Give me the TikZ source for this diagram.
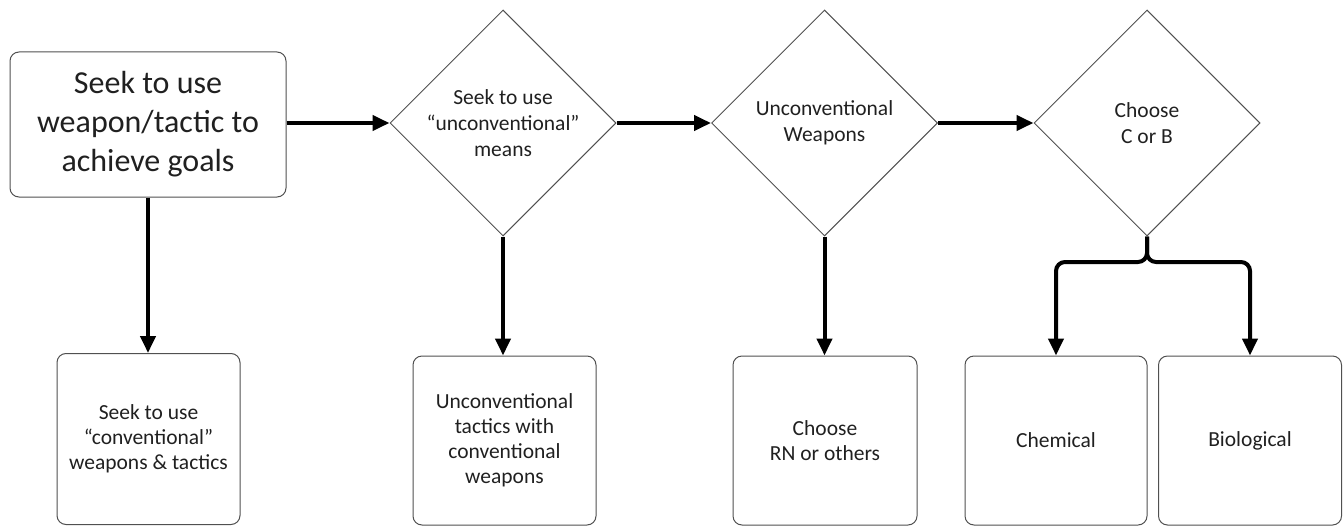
\documentclass[tikz,border=0pt]{standalone}
\usepackage{fontspec}
\setmainfont{Carlito}
\usetikzlibrary{shapes.geometric,arrows.meta}
\definecolor{edgegray}{HTML}{505050}
\definecolor{txt}{HTML}{202020}
\begin{document}
\begin{tikzpicture}[x=1pt,y=-1pt,
  box/.style={draw=edgegray,line width=1pt,rounded corners=9pt,align=center,text=txt,
     font=\fontsize{21.5}{25}\selectfont,inner sep=0pt},
  dia/.style={draw=edgegray,line width=1pt,shape=diamond,minimum width=226pt,minimum height=226pt,
     inner sep=0pt,align=center,text=txt,font=\fontsize{21.5}{26}\selectfont},
  arr/.style={line width=4pt,-{Triangle[length=17pt,width=15pt]}}]
\useasboundingbox (0,0) rectangle (1343,527);
\node[box,minimum width=276pt,minimum height=145pt,font=\fontsize{32}{39}\selectfont] (A) at (148,124.5)
  {Seek to use\\weapon/tactic to\\achieve goals};
\node[dia] (d1) at (503,123) {Seek to use\\``unconventional''\\means};
\node[dia] (d2) at (824.5,123) {Unconventional\\Weapons};
\node[dia] (d3) at (1147,123) {Choose\\C or B};
\node[box,minimum width=183pt,minimum height=171pt] (B) at (148.5,439)
  {Seek to use\\``conventional''\\weapons \& tactics};
\node[box,minimum width=183pt,minimum height=169pt] (C) at (504.5,440.5)
  {Unconventional\\tactics with\\conventional\\weapons};
\node[box,minimum width=184pt,minimum height=169pt] (D) at (825,440.5)
  {Choose\\RN or others};
\node[box,minimum width=182pt,minimum height=169pt] (chem) at (1056,440.5) {Chemical};
\node[box,minimum width=183pt,minimum height=169pt] (bio) at (1250,440.5) {Biological};
\draw[arr] (A.east |- 0,123) -- (d1.west);
\draw[arr] (d1.east) -- (d2.west);
\draw[arr] (d2.east) -- (d3.west);
\draw[arr] (A.south) -- (A.south |- B.north);
\draw[arr] (d1.south) -- (d1.south |- C.north);
\draw[arr] (d2.south) -- (d2.south |- D.north);
\draw[arr,rounded corners=9pt] (d3.south) -- (1147,262) -- (1056,262) -- (chem.north);
\draw[arr,rounded corners=9pt] (d3.south) -- (1147,262) -- (1250,262) -- (bio.north);
\end{tikzpicture}
\end{document}
